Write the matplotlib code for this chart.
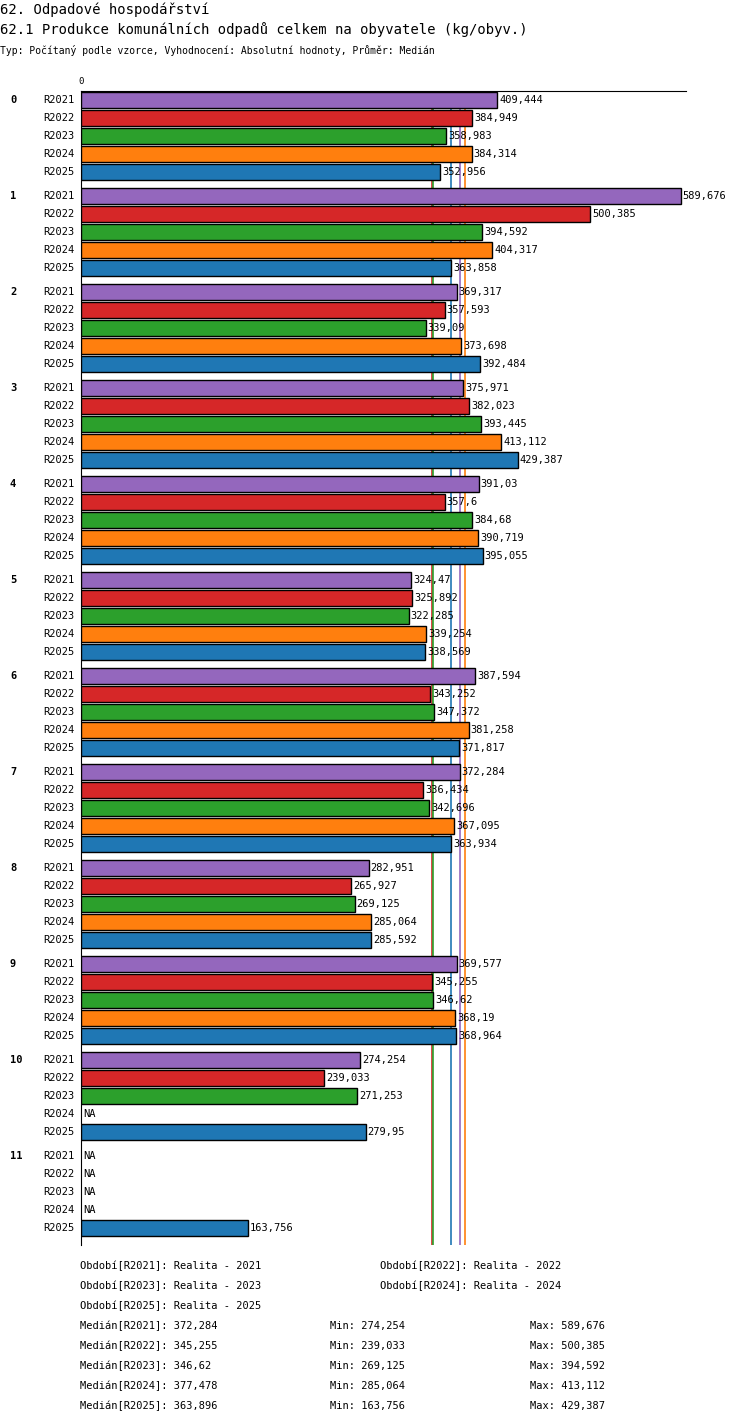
import matplotlib.pyplot as plt
import numpy as np

periods = ["R2021", "R2022", "R2023", "R2024", "R2025"]
colors = ["#9467bd", "#d62728", "#2ca02c", "#ff7f0e", "#1f77b4"]
groups = [str(i) for i in range(12)]
values = [
    [409.444, 384.949, 358.983, 384.314, 352.956],
    [589.676, 500.385, 394.592, 404.317, 363.858],
    [369.317, 357.593, 339.09, 373.698, 392.484],
    [375.971, 382.023, 393.445, 413.112, 429.387],
    [391.03, 357.6, 384.68, 390.719, 395.055],
    [324.47, 325.892, 322.285, 339.254, 338.569],
    [387.594, 343.252, 347.372, 381.258, 371.817],
    [372.284, 336.434, 342.696, 367.095, 363.934],
    [282.951, 265.927, 269.125, 285.064, 285.592],
    [369.577, 345.255, 346.62, 368.19, 368.964],
    [274.254, 239.033, 271.253, None, 279.95],
    [None, None, None, None, 163.756],
]
medians = [372.284, 345.255, 346.62, 377.478, 363.896]
mins = [274.254, 239.033, 269.125, 285.064, 163.756]
maxs = [589.676, 500.385, 394.592, 413.112, 429.387]
legend = ["Realita - 2021", "Realita - 2022", "Realita - 2023", "Realita - 2024", "Realita - 2025"]

def fmt(v):
    s = f"{v:.3f}".rstrip("0").rstrip(".")
    return s.replace(".", ",")

plt.rcParams["font.family"] = ["DejaVu Sans Mono"]
W, H = 750, 1424
fig = plt.figure(figsize=(W / 100, H / 100), dpi=100)
ax = fig.add_axes([81 / W, 1 - 1245 / H, (686 - 81) / W, (1245 - 91) / H])

fs = 7.5
for g, row in enumerate(values):
    for r, v in enumerate(row):
        y = g * 96 + r * 18
        fig.text(74 / W, 1 - (100 + y) / H, periods[r], ha="right", va="center", fontsize=fs)
        if v is None:
            ax.text(2, y, "NA", va="center", fontsize=fs)
            continue
        ax.barh(y, v, height=16, color=colors[r], edgecolor="black", linewidth=1, zorder=3)
        ax.text(v + 2, y, fmt(v), va="center", fontsize=fs, zorder=4)
    fig.text(10 / W, 1 - (100 + g * 96) / H, groups[g], ha="left", va="center", fontsize=fs, fontweight="bold")

for m, c in zip(medians, colors):
    ax.axvline(m, color=c, linewidth=1.2, zorder=1)

ax.set_xlim(0, 595)
ax.set_ylim(1145, -9)
ax.set_xticks([])
ax.set_yticks([])
for s in ["right", "bottom"]:
    ax.spines[s].set_visible(False)
fig.text(81 / W, 1 - 81 / H, "0", ha="center", va="center", fontsize=6.5)

fig.text(0, 1 - 10 / H, "62. Odpadové hospodářství", fontsize=10, va="center")
fig.text(0, 1 - 30 / H, "62.1 Produkce komunálních odpadů celkem na obyvatele (kg/obyv.)", fontsize=10, va="center")
fig.text(0, 1 - 50 / H, "Typ: Počítaný podle vzorce, Vyhodnocení: Absolutní hodnoty, Průměr: Medián", fontsize=7, va="center")

leg_pos = [(80, 1266), (380, 1266), (80, 1286), (380, 1286), (80, 1306)]
for p, t, (x, y) in zip(periods, legend, leg_pos):
    fig.text(x / W, 1 - y / H, f"Období[{p}]: {t}", fontsize=fs, va="center")
for i, p in enumerate(periods):
    y = 1 - (1326 + i * 20) / H
    fig.text(80 / W, y, f"Medián[{p}]: {fmt(medians[i])}", fontsize=fs, va="center")
    fig.text(330 / W, y, f"Min: {fmt(mins[i])}", fontsize=fs, va="center")
    fig.text(530 / W, y, f"Max: {fmt(maxs[i])}", fontsize=fs, va="center")

fig.savefig("out.png", dpi=100)
